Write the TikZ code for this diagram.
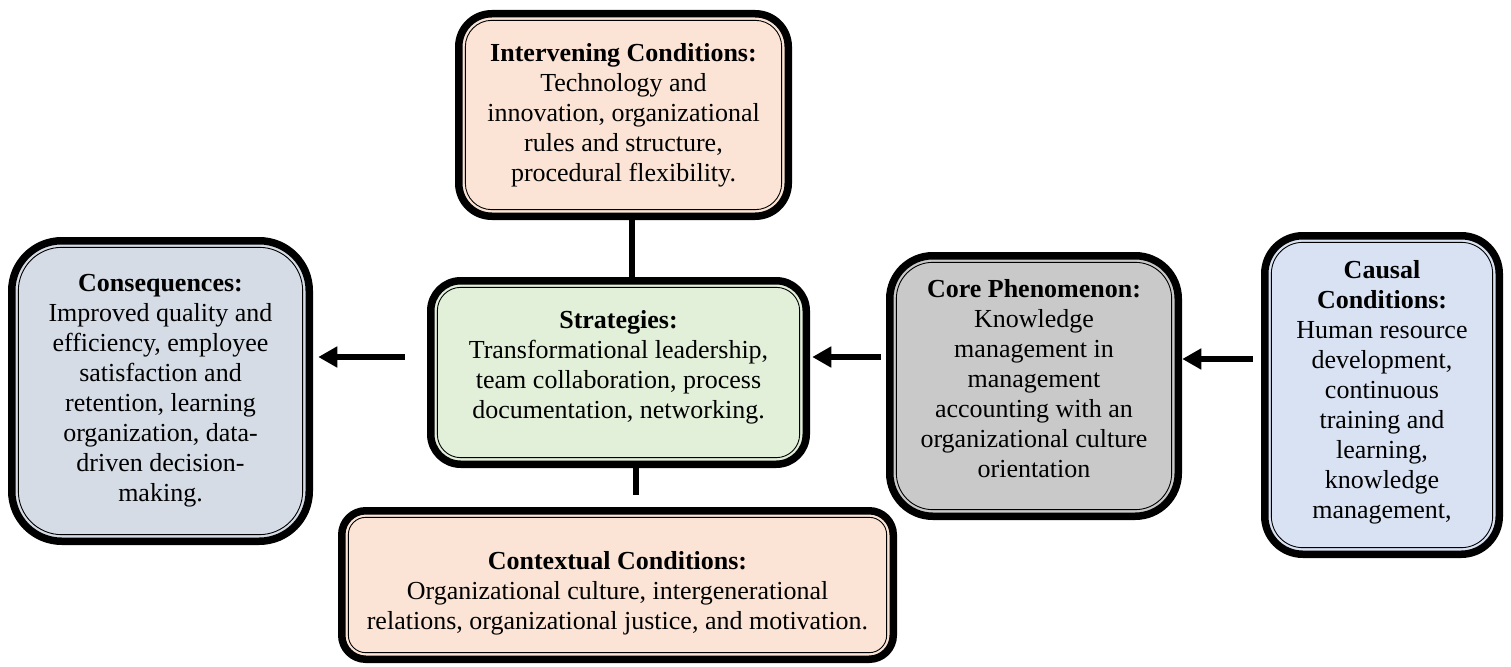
\documentclass[tikz,border=0pt]{standalone}
\usepackage{fontspec}
\setmainfont{Liberation Serif}
\usetikzlibrary{arrows.meta}
\definecolor{peach}{HTML}{FBE4D5}
\definecolor{mint}{HTML}{E2EFD9}
\definecolor{slate}{HTML}{D6DCE5}
\definecolor{stone}{HTML}{C9C9C9}
\definecolor{sky}{HTML}{D9E2F3}
\tikzset{
    box/.style = {rectangle, draw=black, line width=7.5pt, outer sep=0pt, inner sep=0pt, align=center, font=\fontsize{26}{30}\selectfont},
    innerline/.style = {draw=black, line width=0.9pt},
    edgel/.style = {line width=6pt},
    edgea/.style = {-{Triangle[length=19pt,width=20pt]}, line width=6pt}
}
\begin{document}
\begin{tikzpicture}[x=1pt,y=-1pt]
\useasboundingbox (0,0) rectangle (1511,666);
%
\node[box, fill=peach, rounded corners=33pt, minimum width=329.5pt, minimum height=202.5pt] at (623.5,115) (interv)
  {\textbf{Intervening Conditions:}\\Technology and\\innovation, organizational\\rules and structure,\\procedural flexibility.};
\node[box, fill=slate, rounded corners=50pt, minimum width=297.5pt, minimum height=300.5pt] at (160.5,391) (conseq)
  {\textbf{Consequences:}\\Improved quality and\\efficiency, employee\\satisfaction and\\retention, learning\\organization, data-\\driven decision-\\making.};
\node[box, fill=mint, rounded corners=30pt, minimum width=375.5pt, minimum height=183.5pt] at (618.5,372.5) (strat)
  {\textbf{Strategies:}\\Transformational leadership,\\team collaboration, process\\documentation, networking.\\[-14pt]\mbox{}};
\node[box, fill=stone, rounded corners=43pt, minimum width=288.5pt, minimum height=260.5pt] at (1034,386) (core)
  {\textbf{Core Phenomenon:}\\Knowledge\\management in\\management\\accounting with an\\organizational culture\\orientation\\[-14pt]\mbox{}};
\node[box, fill=sky, rounded corners=38pt, minimum width=234.5pt, minimum height=318.5pt] at (1382,395) (causal)
  {\textbf{Causal}\\\textbf{Conditions:}\\Human resource\\development,\\continuous\\training and\\learning,\\knowledge\\management,\\[-18pt]\mbox{}};
\node[box, fill=peach, rounded corners=24pt, minimum width=551.5pt, minimum height=148.5pt] at (617.5,585) (context)
  {\mbox{}\\[4.5pt]\textbf{Contextual Conditions:}\\Organizational culture, intergenerational\\relations, organizational justice, and motivation.};
%
% thin inner border of each box
\foreach \n/\r in {interv/26.4, conseq/43.4, strat/23.4, core/36.4, causal/31.4, context/17.4}
  \draw[innerline, rounded corners=\r pt] ([shift={(6.6pt,6.6pt)}]\n.south west) rectangle ([shift={(-6.6pt,-6.6pt)}]\n.north east);
%
\coordinate (lowend) at (636,495);
\draw[edgel] (interv.south -| 632,0) -- (strat.north -| 632,0);
\draw[edgel] (strat.south -| lowend) -- (lowend);
\draw[edgea, shorten <=26pt, shorten >=9pt] (strat.west |- 0,357) -- (conseq.east |- 0,357);
\draw[edgea, shorten <=9pt, shorten >=6pt] (core.west |- 0,357) -- (strat.east |- 0,357);
\draw[edgea, shorten <=12pt, shorten >=4pt] (causal.west |- 0,359) -- (core.east |- 0,359);
\end{tikzpicture}
\end{document}
